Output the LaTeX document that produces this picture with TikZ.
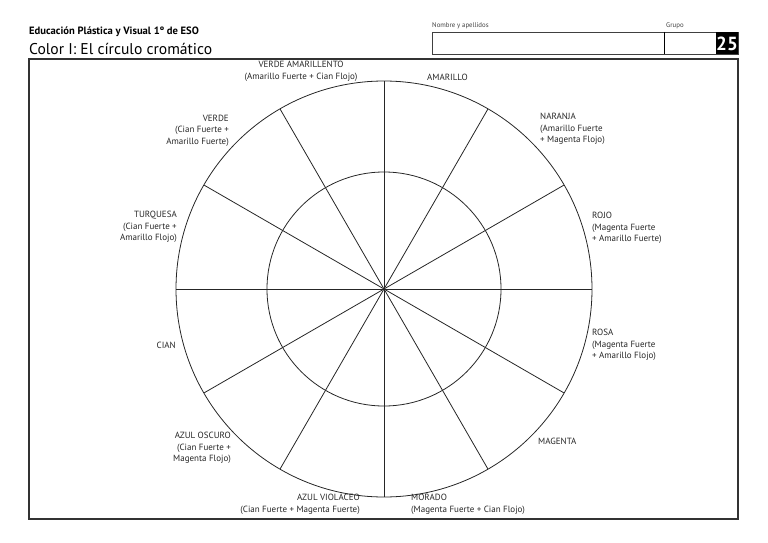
\documentclass[tikz,border=0pt]{standalone}
\usepackage{fontspec}
\setmainfont{PT Sans}
\usetikzlibrary{positioning}

\begin{document}
\begin{tikzpicture}[
    x=1pt, y=-1pt,
    tag/.style={font=\fontsize{9}{11.4}\selectfont, text=black!85, inner sep=0pt, align=left, anchor=north west},
    tagr/.style={tag, align=right, anchor=north east},
    frame/.style={draw, line width=1.3pt, black!80},
    wheel/.style={draw, line width=0.8pt, black!85}
]
\useasboundingbox (0,0) rectangle (768,543);

% cabecera
\node (curso) [inner sep=0pt, anchor=west, font=\bfseries\fontsize{10.6}{12}\selectfont] at (29,32) {Educación Plástica y Visual 1º de ESO};
\node (titulo) [inner sep=0pt, anchor=west, font=\fontsize{15.6}{17}\selectfont] at (29,48.5) {Color I: El círculo cromático};
\node (nombre) [inner sep=0pt, anchor=west, font=\fontsize{6.8}{8}\selectfont, text=black!75] at (432,26) {Nombre y apellidos};
\node (grupo) [inner sep=0pt, anchor=west, font=\fontsize{6.8}{8}\selectfont, text=black!75] at (666,26) {Grupo};
\draw [line width=0.9pt, black!75] (432,32) rectangle (738,54);
\draw [line width=0.7pt] (664,32) -- (664,54);
\fill (716,32) rectangle (738,54);
\node (ficha) [inner sep=0pt, text=white, font=\bfseries\fontsize{19}{20}\selectfont] at (727,43.5) {25};

% marco
\draw [frame] (29,59) rectangle (738,519);

% circulo cromatico
\coordinate (c) at (384,289);
\draw [wheel] (c) circle [radius=208pt];
\draw [wheel] (c) circle [radius=117pt];
\foreach \a in {0,30,...,330}
    \draw [wheel] (c) -- ++(\a:208pt);

% colores
\node (verdeam) [tag, align=center, anchor=north] at (301,61) {VERDE AMARILLENTO\\(Amarillo Fuerte + Cian Flojo)};
\node (amarillo) [tag] at (427,74) {AMARILLO};
\node (naranja) [tag] at (540,113) {NARANJA\\(Amarillo Fuerte\\+ Magenta Flojo)};
\node (rojo) [tag] at (592,212) {ROJO\\(Magenta Fuerte\\+ Amarillo Fuerte)};
\node (rosa) [tag] at (592,329) {ROSA\\(Magenta Fuerte\\+ Amarillo Flojo)};
\node (magenta) [tag] at (538,438) {MAGENTA};
\node (morado) [tag] at (411,494) {MORADO\\(Magenta Fuerte + Cian Flojo)};
\node (violaceo) [tagr] at (360,494) {AZUL VIOLACEO\\(Cian Fuerte + Magenta Fuerte)};
\node (oscuro) [tagr] at (231,432) {AZUL OSCURO\\(Cian Fuerte +\\Magenta Flojo)};
\node (cian) [tagr] at (176,342) {CIAN};
\node (turquesa) [tagr] at (177,211) {TURQUESA\\(Cian Fuerte +\\Amarillo Flojo)};
\node (verde) [tagr] at (229,115) {VERDE\\(Cian Fuerte +\\Amarillo Fuerte)};
\end{tikzpicture}
\end{document}
